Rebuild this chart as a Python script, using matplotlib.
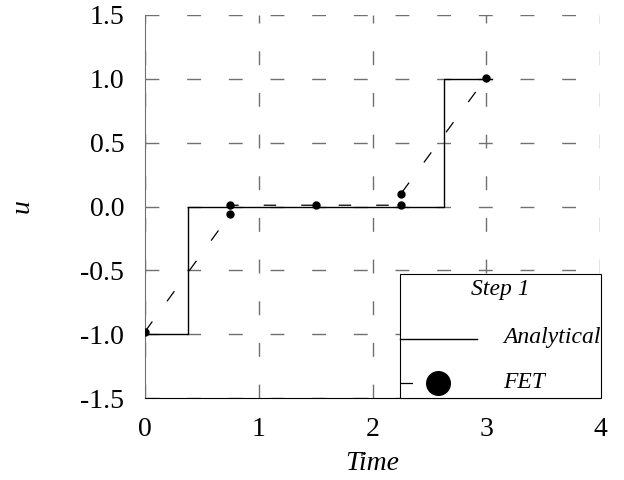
import matplotlib.pyplot as plt
from matplotlib.lines import Line2D
from matplotlib.patches import Rectangle

# solucion analitica (escalon)
t_analitica = [0.0, 0.375, 0.375, 2.625, 2.625, 3.05]
u_analitica = [-1.0, -1.0, 0.0, 0.0, 1.0, 1.0]

# puntos FET
t_fet = [0.0, 0.75, 0.75, 1.5, 2.25, 2.25, 3.0]
u_fet = [-0.98, -0.06, 0.01, 0.01, 0.01, 0.1, 1.01]

xticks = [0, 1, 2, 3, 4]
yticks = [-1.5, -1.0, -0.5, 0.0, 0.5, 1.0, 1.5]

plt.rcParams['font.family'] = ['Liberation Serif', 'DejaVu Serif']

W, H = 624, 480
fig = plt.figure(figsize=(W / 100, H / 100), dpi=100)
ax = fig.add_axes([145 / W, 82 / H, 455 / W, 383 / H])

guiones = (0, (10, 20))
gris = '#707070'

ax.plot(t_analitica, u_analitica, color='black', lw=1.0, zorder=3)
ax.plot(t_fet, u_fet, color='black', lw=0.9, ls=guiones,
        marker='o', ms=5, zorder=4)

ax.set_xlim(0, 4)
ax.set_ylim(-1.5, 1.5)
ax.set_xticks(xticks)
ax.set_yticks(yticks)
ax.set_xticklabels([str(v) for v in xticks])
ax.set_yticklabels([f"{v:.1f}" for v in yticks])
ax.tick_params(length=0, labelsize=20)
ax.tick_params(axis='x', pad=14)
ax.tick_params(axis='y', pad=15)

ax.grid(True, color=gris, lw=1.0, ls=guiones)
ax.set_axisbelow(True)
for s in ['top', 'right']:
    ax.spines[s].set_visible(False)
ax.spines['left'].set_color(gris)
ax.spines['bottom'].set_color('black')

ax.set_xlabel('Time', fontsize=20, style='italic')
ax.set_ylabel('u', fontsize=20, style='italic')
ax.xaxis.set_label_coords(0.5, -(463 - 398) / 383, transform=ax.transAxes)
ax.yaxis.set_label_coords(-(145 - 22) / 455, 0.5, transform=ax.transAxes)
ax.xaxis.label.set_va('center')
ax.yaxis.label.set_va('center')


# leyenda dibujada a mano, en pixeles desde la esquina superior izquierda
def px(x, y):
    return x / W, 1 - y / H


x0, y0 = px(400, 398)
x1, y1 = px(601, 274)
fig.add_artist(Rectangle((x0, y0), x1 - x0, y1 - y0, transform=fig.transFigure,
                         facecolor='white', edgecolor='black', lw=0.8, zorder=10))
fig.text(*px(500, 289), 'Step 1', fontsize=17, style='italic',
         ha='center', va='center', zorder=11)

xa, ya = px(400, 339)
xb, _ = px(477, 339)
fig.add_artist(Line2D([xa, xb], [ya, ya], transform=fig.transFigure,
                      color='black', lw=1.0, zorder=11))
fig.text(*px(503, 338), 'Analytical', fontsize=17, style='italic',
         ha='left', va='center', zorder=11)

xa, ya = px(400, 383)
xb, _ = px(470, 383)
fig.add_artist(Line2D([xa, xb], [ya, ya], transform=fig.transFigure,
                      color='black', lw=0.9, ls=guiones, zorder=11))
xm, ym = px(438, 383)
fig.add_artist(Line2D([xm], [ym], transform=fig.transFigure, color='black',
                      marker='o', ms=17, ls='none', zorder=12))
fig.text(*px(503, 382), 'FET', fontsize=17, style='italic',
         ha='left', va='center', zorder=11)

fig.savefig('out.png', dpi=100)
